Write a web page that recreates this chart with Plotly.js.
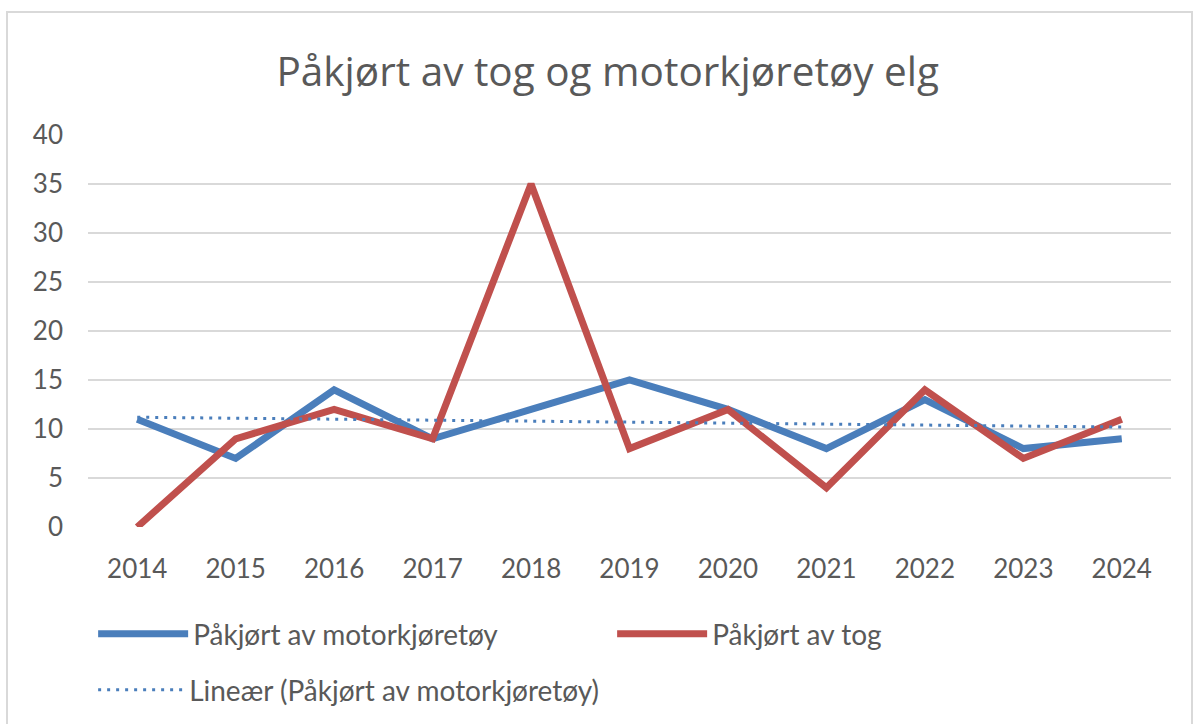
<!DOCTYPE html>
<html>
<head>
<meta charset="utf-8">
<script src="https://cdn.plot.ly/plotly-3.0.1.min.js"></script>
<style>
html,body{margin:0;padding:0;background:#fff;}
#chart{width:1194px;height:724px;}
</style>
</head>
<body>
<div id="chart"></div>
<script>
const years = ['2014','2015','2016','2017','2018','2019','2020','2021','2022','2023','2024'];
const motorkjoretoy = [11, 7, 14, 9, 12, 15, 12, 8, 13, 8, 9];
const tog = [0, 9, 12, 9, 35, 8, 12, 4, 14, 7, 11];
const trendYears = ['2014', '2024'];
const trendValues = [11.2, 10.2];
const yTicks = [0, 5, 10, 15, 20, 25, 30, 35, 40];

const FONT = 'Lato, "Open Sans", sans-serif';
const TITLE_FONT = '"Open Sans", Lato, sans-serif';
const GREY = '#595959';

const traces = [
  {x: years, y: motorkjoretoy, type: 'scatter', mode: 'lines', name: 'Påkjørt av motorkjøretøy',
   line: {color: '#4A7EBB', width: 7}, legend: 'legend'},
  {x: years, y: tog, type: 'scatter', mode: 'lines', name: 'Påkjørt av tog',
   line: {color: '#C0504D', width: 7}, legend: 'legend'},
  {x: trendYears, y: trendValues, type: 'scatter', mode: 'lines', name: 'Lineær (Påkjørt av motorkjøretøy)',
   line: {color: '#4A7EBB', width: 3, dash: '3px,6px'}, legend: 'legend2'}
];

const layout = {
  width: 1194, height: 724,
  paper_bgcolor: '#fff', plot_bgcolor: '#fff',
  margin: {l: 88, r: 23, t: 135, b: 197},
  font: {family: FONT, color: GREY},
  title: {text: 'Påkjørt av tog og motorkjøretøy elg', font: {family: TITLE_FONT, size: 40.5, color: GREY},
          x: 0.509, xanchor: 'center', xref: 'container', y: 1 - 72/724, yanchor: 'middle', yref: 'container'},
  xaxis: {type: 'category', categoryorder: 'array', categoryarray: years, range: [-0.5, 10.5],
          showgrid: false, zeroline: false, showline: false, ticks: '',
          tickfont: {family: FONT, size: 26, color: GREY}, ticklabelstandoff: 24, fixedrange: true},
  yaxis: {range: [0, 40], tickvals: yTicks, showgrid: true, gridcolor: '#D9D9D9', gridwidth: 2,
          zeroline: false, showline: false, ticks: '',
          tickfont: {family: FONT, size: 26, color: GREY}, ticklabelstandoff: 24, fixedrange: true},
  showlegend: true,
  legend: {orientation: 'h', xref: 'container', yref: 'container', x: 0.078, xanchor: 'left',
           y: 1 - 634/724, yanchor: 'middle', font: {family: FONT, size: 28, color: GREY},
           itemwidth: 90, entrywidth: 414, entrywidthmode: 'pixels', bgcolor: 'rgba(0,0,0,0)',
           itemclick: false, itemdoubleclick: false},
  legend2: {orientation: 'h', xref: 'container', yref: 'container', x: 0.078, xanchor: 'left',
           y: 1 - 690/724, yanchor: 'middle', font: {family: FONT, size: 28, color: GREY},
           itemwidth: 86, bgcolor: 'rgba(0,0,0,0)', itemclick: false, itemdoubleclick: false},
  shapes: [{type: 'rect', xref: 'paper', yref: 'paper', x0: (7-88)/1083, x1: (1192-88)/1083,
            y0: (527-740)/392, y1: (527-12)/392, line: {color: '#D9D9D9', width: 2}, layer: 'below'}]
};

Plotly.newPlot('chart', traces, layout, {displayModeBar: false, staticPlot: true});
</script>
</body>
</html>
